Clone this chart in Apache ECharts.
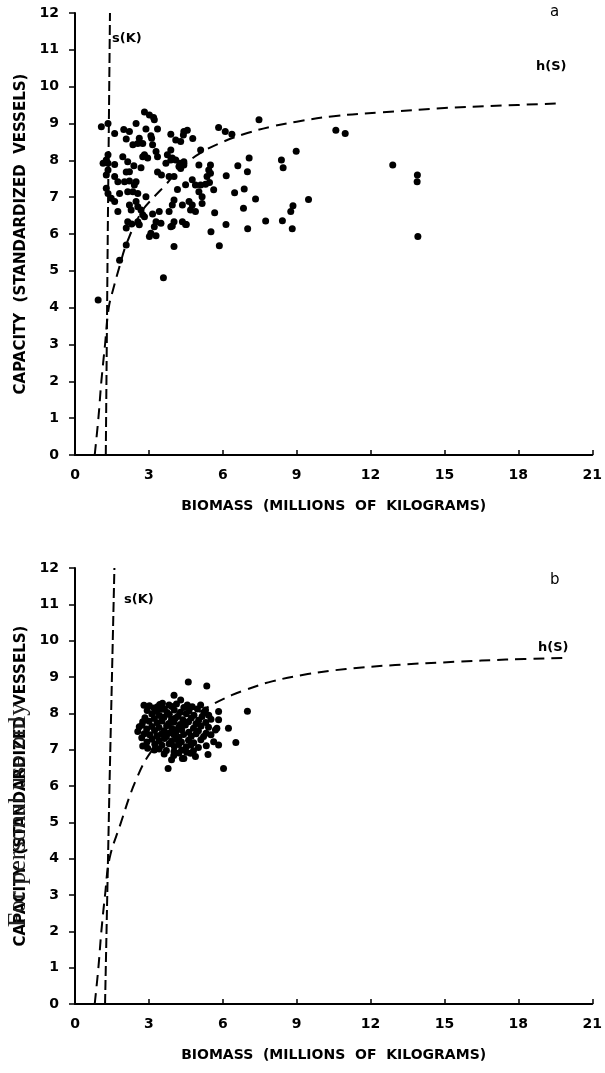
<!DOCTYPE html>
<html>
<head>
<meta charset="utf-8">
<script src="https://cdn.jsdelivr.net/npm/echarts@6/dist/echarts.min.js"></script>
<style>html,body{margin:0;padding:0;background:#fff;}#c{width:605px;height:1073px;}</style>
</head>
<body>
<div id="c"></div>
<script>
// ---------- data ----------
const xTicks = [0, 3, 6, 9, 12, 15, 18, 21];
const yTicks = [0, 1, 2, 3, 4, 5, 6, 7, 8, 9, 10, 11, 12];
const xTitle = 'BIOMASS  (MILLIONS  OF  KILOGRAMS)';
const yTitle = 'CAPACITY  (STANDARDIZED  VESSELS)';

// panel a observations [biomass, capacity]
const scatterA = [
[1.07,8.91],[1.34,9.0],[2.82,9.31],[3.02,9.23],[3.19,9.16],[3.22,9.1],[2.48,9.0],[1.61,8.73],[1.98,8.84],[2.21,8.78],
[2.88,8.85],[3.35,8.85],[2.08,8.58],[2.61,8.6],[3.08,8.67],[3.11,8.6],[3.89,8.71],[4.09,8.55],[4.29,8.51],[4.42,8.78],
[4.78,8.59],[2.35,8.42],[2.55,8.46],[2.75,8.46],[3.15,8.42],[3.89,8.28],[3.75,8.15],[3.95,8.06],[2.82,8.15],[2.95,8.06],
[2.75,8.10],[3.29,8.24],[3.35,8.10],[1.94,8.10],[1.34,8.15],[1.27,8.01],[1.14,7.92],[1.34,7.92],[1.61,7.89],[2.14,7.96],
[2.39,7.85],[2.68,7.80],[3.69,7.92],[3.89,8.01],[4.09,8.01],[4.26,7.92],[4.42,7.87],[4.22,7.83],[1.34,7.74],[1.27,7.60],
[1.61,7.56],[1.74,7.42],[2.08,7.68],[2.21,7.69],[2.01,7.42],[2.21,7.44],[2.48,7.42],[2.41,7.33],[3.35,7.68],[3.51,7.60],
[3.82,7.56],[4.02,7.56],[4.49,7.34],[4.76,7.47],[1.27,7.24],[1.34,7.10],[1.47,6.97],[1.61,6.88],[1.81,7.10],[2.14,7.15],
[2.35,7.15],[2.55,7.10],[2.88,7.01],[4.02,6.92],[3.95,6.79],[4.36,6.79],[4.63,6.88],[4.69,6.65],[2.21,6.79],[2.28,6.65],
[2.48,6.88],[2.55,6.74],[1.74,6.61],[2.68,6.65],[2.75,6.52],[3.15,6.54],[3.42,6.61],[3.82,6.61],[2.14,6.33],[2.55,6.33],
[3.29,6.33],[3.49,6.29],[4.02,6.33],[4.36,6.33],[2.08,6.16],[2.30,6.27],[2.61,6.25],[2.82,6.47],[3.22,6.20],[3.89,6.20],
[4.49,6.26],[3.02,5.93],[3.08,6.02],[3.29,5.95],[2.08,5.70],[4.02,5.66],[1.81,5.29],[3.59,4.81],[0.94,4.21],[7.47,9.10],
[4.56,8.82],[4.40,8.69],[5.83,8.89],[6.10,8.78],[6.37,8.71],[5.10,8.28],[10.59,8.82],[10.97,8.73],[8.98,8.25],[4.42,7.96],
[4.29,7.78],[5.03,7.87],[5.50,7.87],[5.43,7.74],[5.50,7.65],[5.36,7.56],[7.07,8.06],[6.61,7.85],[8.38,8.01],[8.45,7.80],
[6.14,7.58],[7.00,7.69],[4.89,7.33],[5.10,7.33],[5.30,7.35],[5.46,7.40],[5.03,7.15],[5.16,7.01],[5.63,7.20],[6.48,7.12],
[6.87,7.22],[7.33,6.95],[9.48,6.94],[8.85,6.77],[8.76,6.61],[4.76,6.79],[5.16,6.83],[4.89,6.61],[5.67,6.58],[6.84,6.70],
[4.52,6.26],[6.13,6.26],[7.74,6.35],[8.42,6.36],[5.52,6.06],[7.01,6.14],[8.82,6.14],[5.86,5.68],[12.90,7.87],[13.90,7.60],
[13.89,7.42],[13.92,5.93],[4.16,7.21],[3.95,6.22]
];

// panel b observations [biomass, capacity]
const scatterB = [
[4.60,8.86],[5.35,8.75],[4.02,8.50],[4.29,8.37],[4.56,8.23],[4.76,8.18],[5.10,8.23],[5.30,8.09],[2.80,8.22],[5.83,8.05],
[7.00,8.06],[3.35,8.18],[3.55,8.28],[3.82,8.23],[5.43,7.95],[5.16,7.91],[2.75,7.77],[2.61,7.63],[2.55,7.50],[5.83,7.82],
[5.76,7.59],[6.23,7.59],[5.63,7.22],[5.83,7.13],[6.53,7.20],[2.75,7.10],[2.95,7.04],[3.22,6.99],[4.89,6.81],[5.40,6.87],
[3.78,6.48],[6.03,6.48],[4.36,6.76],[4.69,6.90],[5.70,7.54],[4.42,6.76],
[3.02,8.21],[3.21,8.15],[3.44,8.24],[3.63,8.12],[3.93,8.19],[4.12,8.26],[4.42,8.16],[2.93,8.08],[3.31,8.05],[3.52,8.11],
[3.74,8.02],[4.03,8.09],[4.28,8.03],[4.63,8.07],[4.97,8.12],[3.12,7.98],[3.43,7.94],[3.83,7.97],[4.18,7.92],[4.52,7.99],
[4.83,7.95],[5.24,8.01],[2.84,7.88],[3.22,7.86],[3.61,7.89],[3.92,7.84],[4.08,7.87],[4.38,7.82],[4.72,7.87],[5.02,7.81],
[5.52,7.84],[3.01,7.78],[3.33,7.74],[3.53,7.79],[3.81,7.72],[4.02,7.76],[4.27,7.69],[4.61,7.77],[4.91,7.71],[5.31,7.75],
[2.72,7.68],[3.12,7.64],[3.41,7.61],[3.72,7.66],[3.94,7.58],[4.21,7.62],[4.48,7.68],[4.81,7.59],[5.12,7.65],[5.42,7.62],
[2.91,7.57],[3.23,7.53],[3.62,7.52],[3.83,7.46],[4.11,7.51],[4.33,7.55],[4.62,7.48],[5.01,7.52],[5.32,7.45],[2.81,7.44],
[3.03,7.41],[3.32,7.38],[3.51,7.43],[3.71,7.36],[4.02,7.41],[4.22,7.34],[4.41,7.42],[4.72,7.37],[4.92,7.44],[5.22,7.36],
[5.52,7.41],[2.71,7.33],[3.13,7.29],[3.42,7.25],[3.63,7.31],[3.92,7.24],[4.12,7.28],[4.32,7.21],[4.61,7.26],[4.82,7.19],
[5.11,7.27],[2.92,7.21],[3.24,7.15],[3.53,7.12],[3.82,7.16],[4.03,7.09],[4.21,7.14],[4.52,7.08],[4.71,7.13],[5.01,7.06],
[5.33,7.11],[3.42,7.02],[3.71,6.98],[4.02,6.95],[4.33,6.99],[4.53,6.93],[4.81,6.97],[3.62,6.88],[4.01,6.84],[4.22,6.91],
[3.92,6.72]
];

// h(S) and s(K) curves
const hCurveA = [[0.8,0],[0.95,1],[1.07,2],[1.22,3],[1.37,4],[1.55,4.5],[1.8,5.1],[2.1,5.75],[2.7,6.6],[3.2,7.0],[3.7,7.35],[4.3,7.8],[5.1,8.2],[6.0,8.5],[7.0,8.74],[8.0,8.92],[9.0,9.05],[10.5,9.2],[12.4,9.3],[15,9.42],[17.1,9.48],[19.8,9.55]];
const hCurveB = [[0.8,0],[0.95,1],[1.07,2],[1.22,3],[1.4,4],[1.81,4.88],[2.48,6.17],[3.14,6.99],[4.0,7.55],[4.75,7.91],[5.6,8.25],[6.36,8.5],[6.9,8.64],[8.0,8.88],[9.45,9.08],[11,9.22],[13,9.33],[15.5,9.42],[17.5,9.48],[19.8,9.52]];
const sCurveA = [[1.25,0],[1.33,6],[1.42,12]];
const sCurveB = [[1.22,0],[1.4,6],[1.6,12]];

// ---------- chart ----------
const FONT = 'DejaVu Sans';
const chart = echarts.init(document.getElementById('c'), null, {renderer: 'canvas'});

function xAxis(idx) {
  return {
    type: 'value', gridIndex: idx, min: 0, max: 21, interval: 3,
    name: xTitle, nameLocation: 'middle', nameGap: 44,
    nameTextStyle: {fontFamily: FONT, fontWeight: 'bold', fontSize: 14, color: '#000'},
    axisLine: {lineStyle: {color: '#000', width: 2}},
    axisTick: {show: true, inside: true, length: 5, lineStyle: {color: '#000', width: 1.5}},
    axisLabel: {fontFamily: FONT, fontWeight: 'bold', fontSize: 14, color: '#000', margin: 13,
      formatter: v => xTicks.includes(v) ? String(v) : ''},
    splitLine: {show: false}
  };
}
function yAxis(idx) {
  return {
    type: 'value', gridIndex: idx, min: 0, max: 12, interval: 1,
    name: yTitle, nameLocation: 'middle', nameGap: 46, nameRotate: 90,
    nameTextStyle: {fontFamily: FONT, fontWeight: 'bold', fontSize: 15, color: '#000'},
    axisLine: {lineStyle: {color: '#000', width: 2}},
    axisTick: {show: true, inside: false, length: 6, lineStyle: {color: '#000', width: 1.5}},
    axisLabel: {fontFamily: FONT, fontWeight: 'bold', fontSize: 14, color: '#000', margin: 16,
      formatter: v => yTicks.includes(v) ? String(v) : ''},
    splitLine: {show: false}
  };
}
function dots(idx, data) {
  return {type: 'scatter', xAxisIndex: idx, yAxisIndex: idx, data: data, symbol: 'circle', symbolSize: 7,
    itemStyle: {color: '#000', opacity: 1}, silent: true, z: 3};
}
function curve(idx, data, dash, smooth) {
  return {type: 'line', xAxisIndex: idx, yAxisIndex: idx, data: data, smooth: smooth, showSymbol: false,
    lineStyle: {color: '#000', width: 2, type: dash}, silent: true, z: 2};
}

chart.setOption({
  animation: false,
  backgroundColor: '#fff',
  grid: [
    {left: 75, width: 522, top: 13, height: 442},
    {left: 75, width: 522, top: 568, height: 436}
  ],
  xAxis: [xAxis(0), xAxis(1)],
  yAxis: [yAxis(0), yAxis(1)],
  series: [
    dots(0, scatterA),
    curve(0, hCurveA, [11, 7], 0.4),
    curve(0, sCurveA, [10, 4], false),
    dots(1, scatterB),
    curve(1, hCurveB, [11, 7], 0.4),
    curve(1, sCurveB, [10, 4], false)
  ],
  graphic: [
    {type: 'text', left: 550, top: 5, style: {text: 'a', font: '15px "DejaVu Sans"', fill: '#000'}},
    {type: 'text', left: 550, top: 573, style: {text: 'b', font: '15px "DejaVu Sans"', fill: '#000'}},
    {type: 'text', left: 112, top: 32, style: {text: 's(K)', font: 'bold 13px "DejaVu Sans"', fill: '#000'}},
    {type: 'text', left: 124, top: 593, style: {text: 's(K)', font: 'bold 13px "DejaVu Sans"', fill: '#000'}},
    {type: 'text', left: 536, top: 60, style: {text: 'h(S)', font: 'bold 13px "DejaVu Sans"', fill: '#000'}},
    {type: 'text', left: 538, top: 641, style: {text: 'h(S)', font: 'bold 13px "DejaVu Sans"', fill: '#000'}},
    {type: 'text', x: 18, y: 815, rotation: Math.PI / 2,
      style: {text: 'For personal use only', font: '26px "Liberation Serif"', fill: '#222', align: 'center', verticalAlign: 'middle'}, z: 10}
  ]
});
</script>
</body>
</html>
